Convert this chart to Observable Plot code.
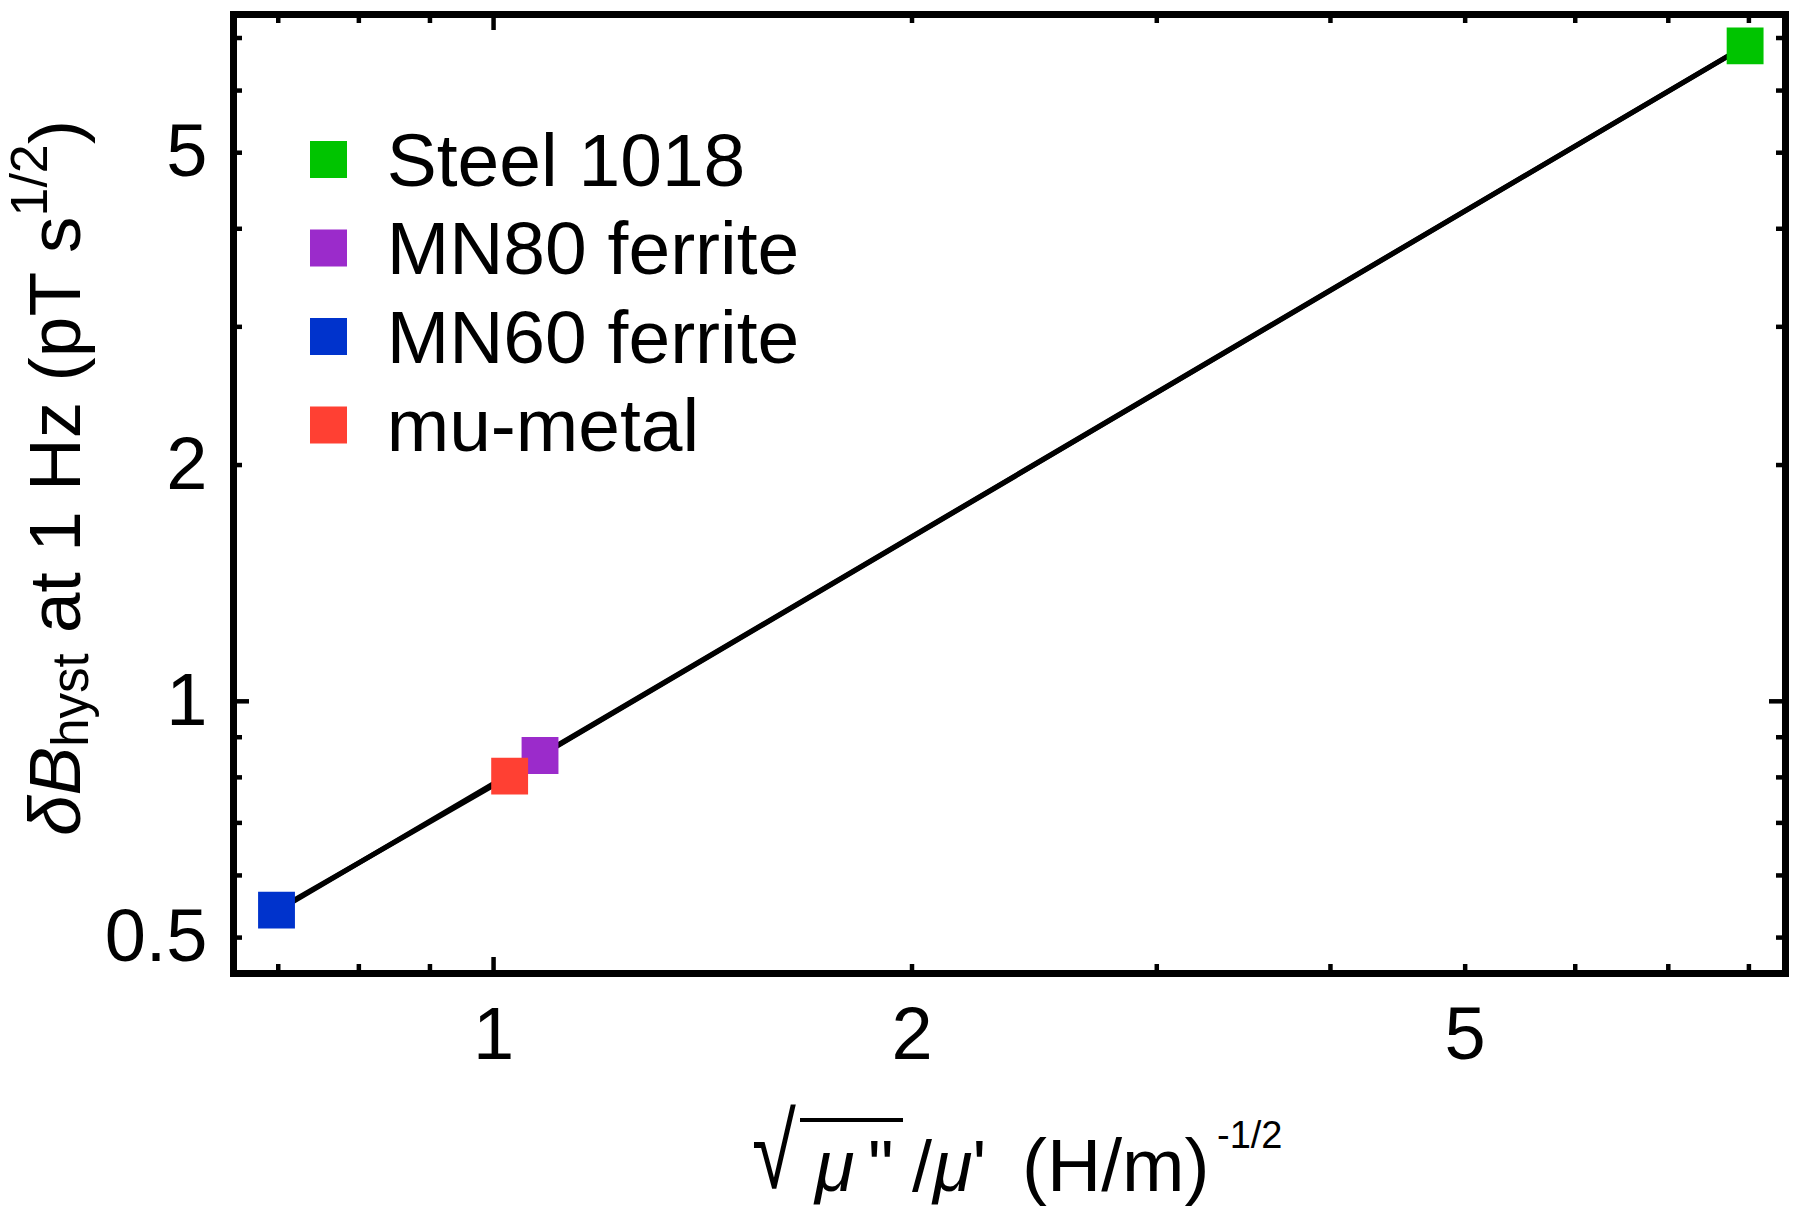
<!DOCTYPE html>
<html><head><meta charset="utf-8">
<script src="https://cdn.jsdelivr.net/npm/d3@7"></script>
<script src="https://cdn.jsdelivr.net/npm/@observablehq/plot@0.6"></script>
<style>html,body{margin:0;padding:0;background:#fff} #chart svg{display:block}</style>
</head><body><div id="chart"></div>
<script>
// ---- data ----
const materials = ["Steel 1018", "MN80 ferrite", "MN60 ferrite", "mu-metal"];
const lossParam = [7.95, 1.08, 0.698, 1.027];      // sqrt(mu'')/mu'  (H/m)^-1/2
const deltaB   = [6.84, 0.853, 0.542, 0.803];      // dB_hyst at 1 Hz (pT s^1/2)
const colors   = ["#00c400", "#9b2bcb", "#0033cc", "#ff4033"];
const xTickLabels = [1, 2, 5];
const yTickLabels = [0.5, 1, 2, 5];
const xMinorTicks = [0.7, 0.8, 0.9, 2, 3, 4, 5, 6, 7, 8];
const xMajorTicks = [1];
const yMinorTicks = [0.5, 0.6, 0.7, 0.8, 0.9, 2, 3, 4, 5, 6, 7];
const yMajorTicks = [1];

const data = materials.map((m, i) => ({material: m, x: lossParam[i], y: deltaB[i]}));
const sorted = data.slice().sort((a, b) => a.x - b.x);

// power-law (log-log least squares) fit
const lx = lossParam.map(Math.log10), ly = deltaB.map(Math.log10);
const mx = d3.mean(lx), my = d3.mean(ly);
const slope = d3.sum(lx.map((v, i) => (v - mx) * (ly[i] - my))) / d3.sum(lx.map(v => (v - mx) ** 2));
const intercept = my - slope * mx;
const fit = d3.extent(lossParam).map(x => ({x, y: 10 ** (intercept + slope * Math.log10(x))}));

// ---- layout ----
const W = 1800, H = 1212, mL = 233, mR = 15, mT = 14, mB = 239;
const fH = H - mT - mB, fW = W - mL - mR;
const tW = 4.5, minorLen = 9, majorLen = 16;
const font = "'Liberation Sans', Arial, Helvetica, sans-serif";

const plot = Plot.plot({
  width: W, height: H,
  marginLeft: mL, marginRight: mR, marginTop: mT, marginBottom: mB,
  x: {type: "log", domain: [0.65, 8.5]},
  y: {type: "log", domain: [0.45, 7.5]},
  color: {domain: materials, range: colors},
  style: {fontFamily: font, fontSize: "74px", background: "#fff", color: "#000"},
  marks: [
    // inward ticks on all four sides
    Plot.tickX(xMinorTicks, {x: d => d, insetTop: fH - minorLen, strokeWidth: tW}),
    Plot.tickX(xMinorTicks, {x: d => d, insetBottom: fH - minorLen, strokeWidth: tW}),
    Plot.tickX(xMajorTicks, {x: d => d, insetTop: fH - majorLen, strokeWidth: tW}),
    Plot.tickX(xMajorTicks, {x: d => d, insetBottom: fH - majorLen, strokeWidth: tW}),
    Plot.tickY(yMinorTicks, {y: d => d, insetRight: fW - minorLen, strokeWidth: tW}),
    Plot.tickY(yMinorTicks, {y: d => d, insetLeft: fW - minorLen, strokeWidth: tW}),
    Plot.tickY(yMajorTicks, {y: d => d, insetRight: fW - majorLen, strokeWidth: tW}),
    Plot.tickY(yMajorTicks, {y: d => d, insetLeft: fW - majorLen, strokeWidth: tW}),
    Plot.axisX(xTickLabels, {tickSize: 0, tickPadding: 33, tickFormat: d => String(d), label: null, fontSize: 74}),
    Plot.axisY(yTickLabels, {tickSize: 0, tickPadding: 26, tickFormat: d => String(d), label: null, fontSize: 74}),
    Plot.line(fit, {x: "x", y: "y", stroke: "#000", strokeWidth: 5}),
    Plot.line(sorted, {x: "x", y: "y", stroke: "#000", strokeWidth: 5}),
    Plot.dot(data, {x: "x", y: "y", symbol: "square", r: 20.8, fill: "material", stroke: null}),
    Plot.frame({stroke: "#000", strokeWidth: 7})
  ]
});
document.getElementById("chart").appendChild(plot);

const svg = d3.select(plot);

// ---- legend ----
const leg = svg.append("g").attr("font-family", font).attr("font-size", 75).attr("text-anchor", "start");
materials.forEach((m, i) => {
  const cy = 159.5 + i * 88.5;
  leg.append("rect").attr("x", 310).attr("y", cy - 18.5).attr("width", 37).attr("height", 37).attr("fill", colors[i]);
  leg.append("text").attr("x", 386.7).attr("y", cy).attr("dy", "0.35em").attr("fill", "#000").text(m);
});

// ---- y title ----
const yt = svg.append("text").attr("transform", "translate(80,478) rotate(-90)")
  .attr("text-anchor", "middle").attr("font-family", font).attr("font-size", 73).attr("fill", "#000");
yt.append("tspan").attr("font-style", "italic").text("δB");
yt.append("tspan").attr("font-size", 51).attr("dy", 8).text("hyst");
yt.append("tspan").attr("dy", -8).text(" at 1 Hz (pT s");
yt.append("tspan").attr("font-size", 52).attr("dy", -33).text("1/2");
yt.append("tspan").attr("dy", 33).text(")");

// ---- x title ----
const base = 1191;
// radical sign (stretched vertically) + its overline
svg.append("text").attr("transform", `translate(752,1188) scale(1,1.32)`)
  .attr("font-family", font).attr("font-size", 80).attr("text-anchor", "start").attr("fill", "#000").text("√");
svg.append("line").attr("x1", 800).attr("x2", 903).attr("y1", 1120).attr("y2", 1120)
  .attr("stroke", "#000").attr("stroke-width", 4);
const xt = svg.append("text").attr("y", base).attr("font-family", font)
  .attr("font-size", 72).attr("fill", "#000").attr("text-anchor", "start");
xt.append("tspan").attr("x", 815).attr("font-style", "italic").text("μ");
xt.append("tspan").attr("x", 868).text("\"");
xt.append("tspan").attr("x", 912).text("/");
xt.append("tspan").attr("x", 933).attr("font-style", "italic").text("μ");
xt.append("tspan").text("'");
xt.append("tspan").attr("x", 1022).attr("font-size", 75).text("(H/m)");
xt.append("tspan").attr("x", 1217).attr("y", 1148).attr("font-size", 38).text("-1/2");
</script>
</body></html>
